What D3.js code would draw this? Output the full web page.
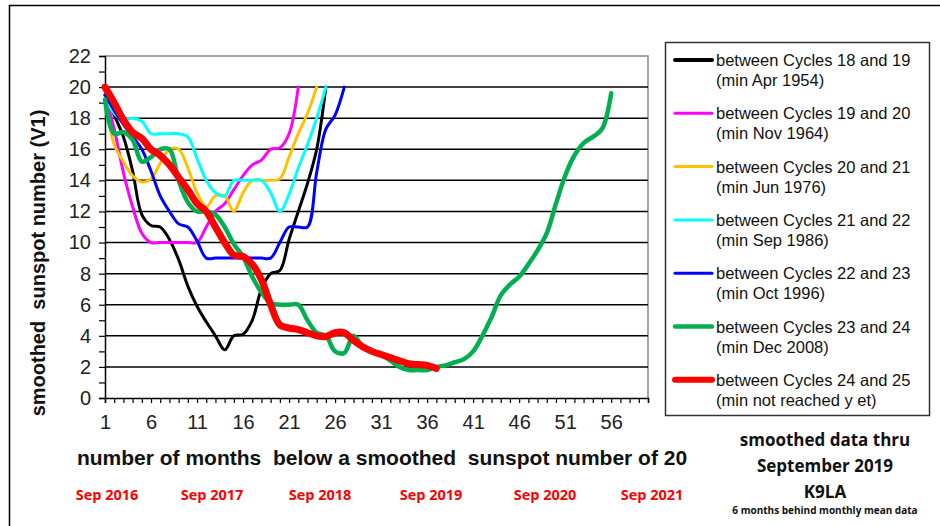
<!DOCTYPE html>
<html>
<head>
<meta charset="utf-8">
<script src="https://cdn.jsdelivr.net/npm/d3@7"></script>
<style>
  html, body { margin: 0; padding: 0; background: #fff; }
  svg { display: block; font-family: Arial, "Liberation Sans", sans-serif; }
</style>
</head>
<body>
<svg id="chart" width="940" height="526"></svg>
<script>
// ── Data (smoothed sunspot number per month below SSN 20) ─────────
const months = d3.range(1, 61);

const c18_19 = [19.5, 18.2, 16.8, 14.6, 11.8, 11.1, 11.0, 10.2, 8.9, 7.2,
                5.9, 4.9, 4.0, 3.1, 4.0, 4.1, 5.0, 7.0, 8.0, 8.2,
                10.2, 12.0, 13.8, 16.0, 20.0];
const c19_20 = [19.5, 17.3, 14.5, 12.3, 10.6, 10.0, 10.0, 10.0, 10.0, 10.0,
                10.0, 11.0, 12.0, 12.5, 13.4, 14.3, 15.0, 15.3, 16.0, 16.1,
                17.0, 20.0];
const c20_21 = [19.5, 16.3, 15.2, 14.3, 13.9, 14.1, 15.1, 16.0, 16.0, 14.8,
                13.2, 12.3, 13.0, 13.0, 12.0, 13.2, 14.0, 14.0, 14.0, 14.1,
                15.5, 17.0, 18.3, 20.0];
const c21_22 = [19.5, 18.3, 17.9, 18.0, 17.8, 17.0, 17.0, 17.0, 17.0, 16.8,
                15.4, 14.0, 13.2, 13.0, 14.0, 14.0, 14.0, 14.0, 13.2, 12.0,
                13.1, 14.8, 16.3, 18.0, 20.0];
const c22_23 = [19.5, 18.5, 17.6, 16.8, 16.0, 14.6, 13.0, 12.0, 11.2, 11.0,
                10.1, 9.0, 9.0, 9.0, 9.0, 9.0, 9.0, 9.0, 9.0, 10.0,
                11.0, 11.0, 11.0, 14.5, 17.3, 18.2, 20.0];
const c23_24 = [19.2, 17.0, 17.1, 16.6, 15.2, 15.5, 16.0, 16.0, 14.0, 12.6,
                12.0, 12.0, 11.8, 11.0, 9.9, 9.1, 7.8, 6.8, 6.1, 6.0,
                6.0, 6.0, 5.0, 4.2, 4.0, 3.0, 2.9, 4.0, 3.3, 3.0,
                2.8, 2.4, 2.0, 1.8, 1.8, 1.8, 2.0, 2.1, 2.3, 2.5,
                3.0, 4.0, 5.2, 6.6, 7.3, 7.8, 8.6, 9.5, 10.6, 12.5,
                14.3, 15.6, 16.4, 16.8, 17.3, 19.6];
const c24_25 = [20.0, 19.0, 17.9, 17.1, 16.7, 16.0, 15.6, 15.0, 14.2, 13.4,
                12.5, 12.0, 11.0, 10.0, 9.2, 9.1, 8.6, 7.6, 6.0, 4.7,
                4.5, 4.4, 4.2, 4.0, 3.95, 4.2, 4.2, 3.7, 3.3, 3.0,
                2.8, 2.6, 2.4, 2.2, 2.15, 2.1, 1.9];

const seriesNames = [
  ['between Cycles 18 and 19', '(min Apr 1954)'],
  ['between Cycles 19 and 20', '(min Nov 1964)'],
  ['between Cycles 20 and 21', '(min Jun 1976)'],
  ['between Cycles 21 and 22', '(min Sep 1986)'],
  ['between Cycles 22 and 23', '(min Oct 1996)'],
  ['between Cycles 23 and 24', '(min Dec 2008)'],
  ['between Cycles 24 and 25', '(min not reached y et)'],
];
const seriesValues = [c18_19, c19_20, c20_21, c21_22, c22_23, c23_24, c24_25];
const seriesColors = ['#000000', '#ff00ff', '#ffc000', '#00ffff', '#0000ff', '#00b050', '#ff0000'];
const seriesWidths = [3, 3, 3, 3, 3, 4.5, 7];

const yTicks = d3.range(0, 23, 2);
const xLabelMonths = [1, 6, 11, 16, 21, 26, 31, 36, 41, 46, 51, 56];
const dateLabels = ['Sep 2016', 'Sep 2017', 'Sep 2018', 'Sep 2019', 'Sep 2020', 'Sep 2021'];
const dateLabelX = [107, 212, 320, 431, 545, 652];

// ── Layout ─────────────────────────────────────────────────────────
const svg = d3.select('#chart');
const x = d3.scaleLinear().domain([1, 60]).range([105, 648]);
const y = d3.scaleLinear().domain([0, 22]).range([398, 56]);

// outer frame (left + top edges visible)
svg.append('path')
  .attr('d', 'M9.5,526 V5.5 H940')
  .attr('fill', 'none')
  .attr('stroke', '#000')
  .attr('stroke-width', 1.5);

// plot border (top/right, grey)
svg.append('path')
  .attr('d', `M${x(1)},${y(22)} H${x(60)} V${y(0)}`)
  .attr('fill', 'none')
  .attr('stroke', '#888')
  .attr('stroke-width', 1.5);

// gridlines
svg.append('g')
  .selectAll('line')
  .data(yTicks.filter(v => v > 0 && v < 22))
  .join('line')
    .attr('x1', x(1)).attr('x2', x(60))
    .attr('y1', d => y(d)).attr('y2', d => y(d))
    .attr('stroke', '#000')
    .attr('stroke-width', 1.5);

// ── Axes ───────────────────────────────────────────────────────────
const yAxis = svg.append('g')
  .attr('transform', `translate(${x(1)},0)`)
  .call(d3.axisLeft(y).tickValues(d3.range(0, 23, 1)).tickSize(6)
    .tickFormat(d => d % 2 === 0 ? d : ''));
yAxis.select('.domain').attr('stroke-width', 1.5);
yAxis.selectAll('.tick line').attr('stroke-width', 1.2);
yAxis.selectAll('text')
  .attr('x', -14)
  .attr('fill', '#222')
  .attr('font-size', 20)
  .attr('font-family', 'Arial, "Liberation Sans", sans-serif');

const xAxis = svg.append('g')
  .attr('transform', `translate(0,${y(0)})`)
  .call(d3.axisBottom(x).tickValues(months).tickSizeOuter(0).tickSize(5)
    .tickFormat(d => xLabelMonths.includes(d) ? d : ''));
xAxis.select('.domain').attr('stroke-width', 1.5);
xAxis.selectAll('.tick line').attr('stroke-width', 1.2);
xAxis.selectAll('text')
  .attr('y', 17)
  .attr('fill', '#222')
  .attr('font-size', 20)
  .attr('font-family', 'Arial, "Liberation Sans", sans-serif');

// ── Series ─────────────────────────────────────────────────────────
const line = d3.line()
  .x((d, i) => x(i + 1))
  .y(d => y(d))
  .curve(d3.curveCatmullRom.alpha(0.5));

svg.append('g')
  .selectAll('path')
  .data(seriesValues)
  .join('path')
    .attr('d', d => line(d))
    .attr('fill', 'none')
    .attr('stroke', (d, i) => seriesColors[i])
    .attr('stroke-width', (d, i) => seriesWidths[i])
    .attr('stroke-linejoin', 'round')
    .attr('stroke-linecap', 'round');

// ── Axis titles ────────────────────────────────────────────────────
svg.append('text')
  .attr('transform', 'translate(45,263) rotate(-90)')
  .attr('text-anchor', 'middle')
  .attr('font-size', 20)
  .attr('font-weight', 'bold')
  .attr('fill', '#111')
  .attr('xml:space', 'preserve')
  .text('smoothed  sunspot number (V1)');

svg.append('text')
  .attr('x', 382)
  .attr('y', 465)
  .attr('text-anchor', 'middle')
  .attr('font-size', 21)
  .attr('font-weight', 'bold')
  .attr('fill', '#111')
  .attr('xml:space', 'preserve')
  .text('number of months  below a smoothed  sunspot number of 20');

svg.append('g')
  .selectAll('text')
  .data(dateLabels)
  .join('text')
    .attr('x', (d, i) => dateLabelX[i])
    .attr('y', 500)
    .attr('text-anchor', 'middle')
    .attr('font-size', 14.5)
    .attr('font-weight', 'bold')
    .attr('fill', '#ff0000')
    .attr('font-family', '"Liberation Sans Narrow", "Open Sans", sans-serif')
    .text(d => d);

// ── Notes (bottom right) ───────────────────────────────────────────
const notes = [
  { t: 'smoothed data thru', y: 446, s: 17 },
  { t: 'September 2019',     y: 472, s: 17 },
  { t: 'K9LA',               y: 498, s: 17 },
  { t: '6 months behind monthly mean data', y: 514, s: 10 },
];
svg.append('g')
  .selectAll('text')
  .data(notes)
  .join('text')
    .attr('x', 825)
    .attr('y', d => d.y)
    .attr('text-anchor', 'middle')
    .attr('font-size', d => d.s)
    .attr('font-weight', 'bold')
    .attr('fill', '#111')
    .attr('font-family', '"Liberation Sans Narrow", "Open Sans", sans-serif')
    .text(d => d.t);

// ── Legend ─────────────────────────────────────────────────────────
const legend = svg.append('g');
legend.append('rect')
  .attr('x', 665.5).attr('y', 42.5)
  .attr('width', 264).attr('height', 373)
  .attr('fill', '#fff')
  .attr('stroke', '#333')
  .attr('stroke-width', 1.5);

const rows = legend.selectAll('g.row')
  .data(seriesNames)
  .join('g')
    .attr('class', 'row')
    .attr('transform', (d, i) => `translate(0,${60 + i * 53.3})`);

rows.append('line')
  .attr('x1', 675).attr('x2', 712)
  .attr('stroke', (d, i) => seriesColors[i])
  .attr('stroke-width', (d, i) => i === 6 ? 6 : (i === 5 ? 4.5 : (i === 0 ? 4 : 3)))
  .attr('stroke-linecap', 'round');

rows.append('text')
  .attr('x', 716).attr('y', 6)
  .attr('font-size', 16.5)
  .attr('fill', '#111')
  .text(d => d[0]);

rows.append('text')
  .attr('x', 716).attr('y', 26)
  .attr('font-size', 16.5)
  .attr('fill', '#111')
  .text(d => d[1]);
</script>
</body>
</html>
